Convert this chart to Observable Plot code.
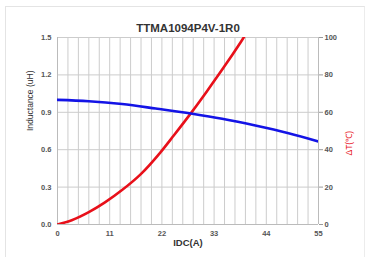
<!DOCTYPE html>
<html>
<head>
<meta charset="utf-8">
<script src="https://cdn.jsdelivr.net/npm/d3@7"></script>
<script src="https://cdn.jsdelivr.net/npm/@observablehq/plot@0.6"></script>
<style>
  html, body { margin: 0; padding: 0; background: #fff; }
  #wrap { position: relative; width: 366px; height: 257px; overflow: hidden; }
  #frame { position: absolute; left: 5px; top: 6px; width: 358px; height: 260px; border-left: 1px solid #e4e4e4; border-top: 1px solid #e4e4e4; border-right: 1px solid #ececec; }
  #wrap svg { position: absolute; left: 0; top: 0; }
</style>
</head>
<body>
<div id="wrap"><div id="frame"></div></div>
<script>
const title = "TTMA1094P4V-1R0";
const xTicks = [0, 11, 22, 33, 44, 55];
const yLeftTicks = [0, 0.3, 0.6, 0.9, 1.2, 1.5];
const yRightTicks = [0, 20, 40, 60, 80, 100];

// Inductance (uH) vs IDC (A)
const indI = [0, 6.6, 13.6, 20.7, 28.4, 34.7, 41.7, 48.7, 55];
const indL = [1.0, 0.989, 0.966, 0.93, 0.888, 0.848, 0.794, 0.732, 0.666];

// Temperature rise ΔT (℃) vs IDC (A)
const tI = [0, 3, 6.6, 10, 13.6, 17.5, 21.7, 24.5, 28.4, 31.5, 35, 38.6, 40];
const tT = [0, 2.3, 6.6, 11.8, 18.4, 26.8, 38.6, 47.6, 60.5, 71.3, 83.9, 97.5, 103];

const indData = indI.map((x, i) => ({x, y: indL[i]}));
const tData = tI.map((x, i) => ({x, y: tT[i] * 1.5 / 100}));
const vGrid = d3.range(0, 25 + 1).map(i => i * 2.2);

const plot = Plot.plot({
  width: 366,
  height: 257,
  marginLeft: 57,
  marginRight: 48,
  marginTop: 37,
  marginBottom: 33,
  style: {fontFamily: "Liberation Sans, Arial, sans-serif", background: "transparent"},
  x: {domain: [0, 55]},
  y: {domain: [0, 1.5]},
  marks: [
    Plot.ruleX(vGrid, {stroke: "#cccccc", strokeWidth: 1}),
    Plot.ruleY(yLeftTicks, {stroke: "#cccccc", strokeWidth: 1}),
    Plot.ruleX([0], {stroke: "#bbbbbb"}),
    Plot.ruleX([55], {stroke: "#bbbbbb"}),
    Plot.ruleY([0], {stroke: "#bbbbbb"}),
    Plot.axisX({ticks: xTicks, tickSize: 0, tickPadding: 6, tickFormat: d => String(d), fontSize: 7.5, fontWeight: "bold", fill: "#555", label: null}),
    Plot.axisY({ticks: yLeftTicks, tickSize: 0, tickPadding: 6, tickFormat: d => d.toFixed(1), fontSize: 7.5, fontWeight: "bold", fill: "#555", label: null}),
    Plot.axisY({anchor: "right", ticks: yRightTicks.map(t => t * 1.5 / 100), tickSize: 4, tickPadding: 2, stroke: "#999", tickFormat: d => String(Math.round(d / 1.5 * 100)), fontSize: 7.5, fontWeight: "bold", fill: "#555", label: null}),
    Plot.line(tData, {x: "x", y: "y", stroke: "#e8101a", strokeWidth: 2.6, curve: "monotone-x", clip: true}),
    Plot.line(indData, {x: "x", y: "y", stroke: "#1414e6", strokeWidth: 2.6, curve: "monotone-x", clip: true}),
    Plot.text([title], {frameAnchor: "top", dy: -14, fontSize: 11.5, fontWeight: "bold", fill: "#333"}),
    Plot.text(["IDC(A)"], {frameAnchor: "bottom", dy: 21, fontSize: 9.5, fontWeight: "bold", fill: "#333"}),
    Plot.text(["Inductance (uH)"], {frameAnchor: "left", dx: -27, rotate: -90, fontSize: 8.5, fill: "#333"}),
    Plot.text(["ΔT(℃)"], {frameAnchor: "right", dx: 31, rotate: -90, fontSize: 8.5, fill: "#e8101a"})
  ]
});
document.getElementById("wrap").appendChild(plot);
</script>
</body>
</html>
